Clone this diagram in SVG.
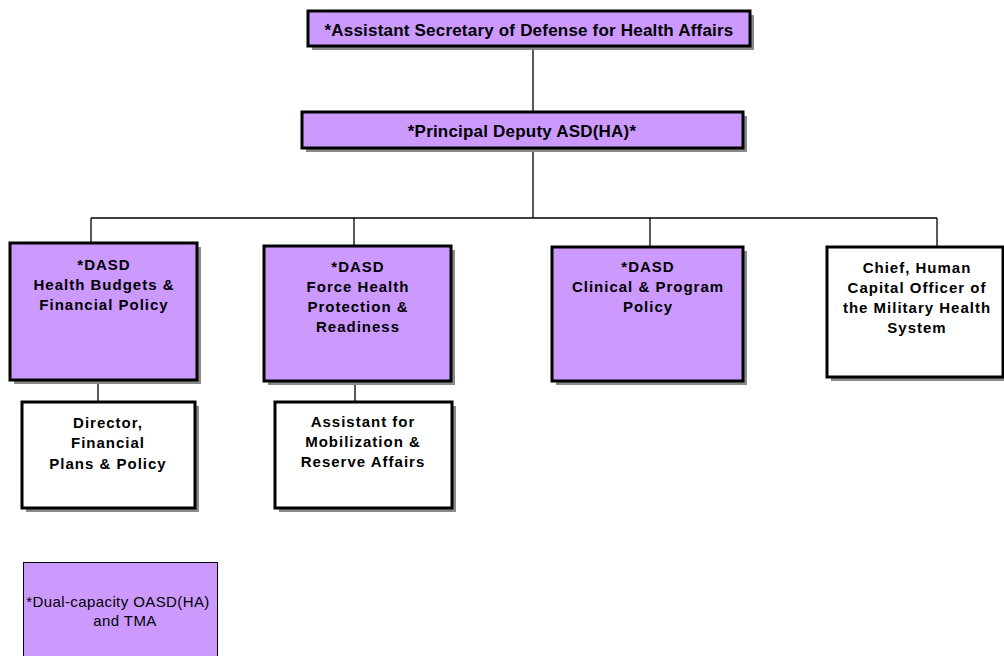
<svg xmlns="http://www.w3.org/2000/svg" width="1004" height="656" viewBox="0 0 1004 656">
<style>
.box{stroke:#000;stroke-width:3}
.p{fill:#CC99FF}
.w{fill:#FFFFFF}
.sh{fill:#8a8a8a}
.t{font-family:"Liberation Sans",Arial,sans-serif;font-weight:bold;font-size:15px;letter-spacing:1px;fill:#000;text-anchor:middle}
.t16{font-size:17px;letter-spacing:0.2px}
.leg{font-family:"Liberation Sans",Arial,sans-serif;font-size:15px;letter-spacing:0.4px;fill:#000;text-anchor:middle}
.c{stroke:#000;stroke-width:1.3;fill:none}
</style>
<rect width="1004" height="656" fill="#fff"/>
<g id="connectors">
<line class="c" x1="533" y1="46" x2="533" y2="112"/>
<line class="c" x1="533" y1="148" x2="533" y2="218"/>
<line class="c" x1="91" y1="218" x2="937" y2="218"/>
<line class="c" x1="91" y1="218" x2="91" y2="243"/>
<line class="c" x1="354" y1="218" x2="354" y2="246"/>
<line class="c" x1="650" y1="218" x2="650" y2="247"/>
<line class="c" x1="937" y1="218" x2="937" y2="247"/>
<line class="c" x1="98" y1="380" x2="98" y2="402"/>
<line class="c" x1="355" y1="381" x2="355" y2="402"/>
</g>
<g id="asd">
<rect class="sh" x="312" y="15" width="442" height="35"/>
<rect class="box p" x="308" y="11" width="442" height="35"/>
<text class="t t16" x="529" y="36">*Assistant Secretary of Defense for Health Affairs</text>
</g>
<g id="pdasd">
<rect class="sh" x="306" y="116" width="441" height="36"/>
<rect class="box p" x="302" y="112" width="441" height="36"/>
<text class="t t16" x="522" y="137">*Principal Deputy ASD(HA)*</text>
</g>
<g id="dasd-hb">
<rect class="sh" x="14" y="247" width="187" height="137"/>
<rect class="box p" x="10" y="243" width="187" height="137"/>
<text class="t" x="104" y="270">*DASD</text>
<text class="t" x="104" y="290">Health Budgets &amp;</text>
<text class="t" x="104" y="310">Financial Policy</text>
</g>
<g id="dasd-fhp">
<rect class="sh" x="268" y="250" width="187" height="135"/>
<rect class="box p" x="264" y="246" width="187" height="135"/>
<text class="t" x="358" y="272">*DASD</text>
<text class="t" x="358" y="292">Force Health</text>
<text class="t" x="358" y="312">Protection &amp;</text>
<text class="t" x="358" y="332">Readiness</text>
</g>
<g id="dasd-cpp">
<rect class="sh" x="556" y="251" width="191" height="134"/>
<rect class="box p" x="552" y="247" width="191" height="134"/>
<text class="t" x="648" y="272">*DASD</text>
<text class="t" x="648" y="292">Clinical &amp; Program</text>
<text class="t" x="648" y="312">Policy</text>
</g>
<g id="chco">
<rect class="sh" x="831" y="251" width="176" height="130"/>
<rect class="box w" x="827" y="247" width="176" height="130"/>
<text class="t" x="917" y="273">Chief, Human</text>
<text class="t" x="917" y="293">Capital Officer of</text>
<text class="t" x="917" y="313">the Military Health</text>
<text class="t" x="917" y="333">System</text>
</g>
<g id="director">
<rect class="sh" x="26" y="406" width="173" height="106"/>
<rect class="box w" x="22" y="402" width="173" height="106"/>
<text class="t" x="108" y="428">Director,</text>
<text class="t" x="108" y="448">Financial</text>
<text class="t" x="108" y="469">Plans &amp; Policy</text>
</g>
<g id="assistant">
<rect class="sh" x="279" y="406" width="177" height="106"/>
<rect class="box w" x="275" y="402" width="177" height="106"/>
<text class="t" x="363" y="427">Assistant  for</text>
<text class="t" x="363" y="447">Mobilization &amp;</text>
<text class="t" x="363" y="467">Reserve Affairs</text>
</g>
<g id="legend">
<rect x="23.5" y="562.5" width="194" height="100" fill="#CC99FF" stroke="#000" stroke-width="1"/>
<text class="leg" x="118" y="607">*Dual-capacity OASD(HA)</text>
<text class="leg" x="125" y="626">and TMA</text>
</g>
</svg>
